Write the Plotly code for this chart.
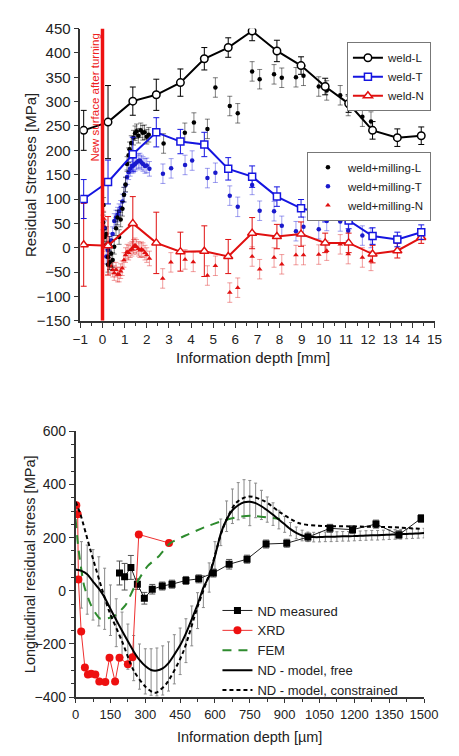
import plotly.graph_objects as go

FONT = "Liberation Sans, Arial, sans-serif"

# ================= TOP PANEL DATA =================
weld_x = [-0.85, 0.25, 1.37, 2.43, 3.52, 4.6, 5.68, 6.76, 7.88, 8.97, 10.06, 11.12, 12.2, 13.32, 14.4]
weld_L = [241, 258, 301, 314, 339, 388, 411, 445, 404, 374, 331, 296, 241, 226, 230]
weld_L_err = [41, 75, 29, 32, 28, 23, 20, 20, 22, 18, 17, 18, 18, 18, 18]
weld_T = [100, 135, 192, 237, 218, 212, 162, 146, 105, 81, 70, 56, 24, 17, 32]
weld_T_err = [40, 45, 35, 30, 25, 25, 23, 22, 20, 18, 17, 17, 17, 15, 15]
weld_N = [6, 4, 50, 10, -8, -7, -18, 30, 23, 28, 10, 10, -13, -6, 21]
weld_N_err = [85, 60, 55, 63, 40, 52, 35, 32, 25, 25, 20, 20, 18, 15, 12]

mill_L_x = [0.03, 0.05, 0.1, 0.17, 0.25, 0.25, 0.32, 0.32, 0.39, 0.46, 0.53, 0.61, 0.68, 0.75, 0.82, 0.9,
            0.97, 1.04, 1.11, 1.18, 1.22, 1.3, 1.4, 1.47, 1.54, 1.62, 1.73, 1.82, 1.9, 2.0, 2.09,
            2.76, 3.72, 4.13, 4.74, 5.1, 5.75, 6.11, 6.76, 7.1, 7.75, 8.1, 8.74, 9.08, 9.77, 10.13,
            10.74, 11.1, 11.74, 12.13]
mill_L_y = [52, 88, 22, 28, -19, -35, 8, -30, -12, -25, 2, 40, 62, 22, 58, 80,
            109, 130, 172, 190, 202, 215, 226, 235, 239, 230, 241, 236, 237, 228, 232,
            214, 236, 257, 244, 329, 291, 276, 362, 346, 356, 349, 350, 353, 331, 323,
            313, 291, 269, 259]
mill_L_err = [15] * 31 + [20] * 19

mill_T_x = [0.1, 0.17, 0.25, 0.32, 0.39, 0.46, 0.53, 0.61, 0.68, 0.75, 0.82, 0.9, 0.97, 1.04, 1.11,
            1.18, 1.25, 1.33, 1.4, 1.47, 1.54, 1.62, 1.69, 1.76, 1.83, 1.92, 2.0, 2.12,
            2.73, 3.1, 3.73, 4.05, 4.74, 5.1, 5.75, 6.11, 6.76, 7.1, 7.75, 8.1, 8.74, 9.08,
            9.77, 10.13, 10.74, 11.1, 11.74, 12.13]
mill_T_y = [40, -18, -5, 8, 15, 28, 55, 62, 68, 75, 82, 95, 109, 129, 145,
            155, 162, 168, 169, 172, 175, 178, 179, 175, 172, 168, 169, 162,
            152, 163, 170, 179, 143, 154, 107, 84, 129, 76, 75, 45, 34, 43,
            38, 55, 54, 35, 25, 20]
mill_T_err = [15] * 28 + [20] * 20

mill_N_x = [0.05, 0.1, 0.17, 0.25, 0.32, 0.39, 0.46, 0.53, 0.61, 0.68, 0.75, 0.82, 0.89, 0.97, 1.04,
            1.11, 1.18, 1.25, 1.33, 1.4, 1.47, 1.54, 1.62, 1.69, 1.76, 1.83, 1.92, 2.0, 2.12,
            2.72, 3.09, 3.73, 4.1, 4.74, 5.1, 5.75, 6.11, 6.76, 7.1, 7.75, 8.1, 8.74, 9.08,
            9.77, 10.13, 10.74, 11.1, 11.74, 12.13]
mill_N_y = [60, 42, 8, -18, -30, -38, -45, -52, -45, -55, -55, -48, -42, -25, -15,
            -8, -10, -5, -2, 2, 5, 2, -2, -5, -3, -5, -10, -15, -22,
            -63, -30, -24, -29, -57, -37, -92, -82, -18, -44, -20, -34, -15, -15,
            -14, -6, 7, -13, -20, -27]
mill_N_err = [15] * 29 + [20] * 20

top_x_ticks = list(range(-1, 16))
top_y_ticks = list(range(-150, 451, 50))

# ================= BOTTOM PANEL DATA =================
nd_x = [189, 211, 238, 266, 296, 330, 373, 415, 475, 530, 593, 661, 738, 820, 909, 1000, 1095, 1192, 1293, 1392, 1487]
nd_y = [67, 53, 88, 25, -28, 6, 18, 25, 39, 45, 67, 100, 119, 176, 179, 202, 235, 230, 251, 211, 272]
nd_err = [45, 50, 45, 20, 22, 18, 15, 15, 15, 15, 15, 18, 15, 15, 15, 15, 15, 15, 15, 15, 15]

xrd_x = [3, 9, 12, 24, 40, 53, 67, 85, 102, 128, 146, 170, 189, 225, 245, 272, 402]
xrd_y = [322, 288, 43, -153, -288, -315, -312, -315, -341, -343, -252, -341, -252, -276, -250, 212, 180]

fem_x = [0, 12, 37, 67, 105, 160, 214, 255, 309, 357, 405, 473, 555, 636, 700, 760, 880]
fem_y = [270, 160, 18, -55, -104, -98, -55, 18, 92, 129, 178, 208, 239, 264, 278, 282, 270]

free_x = [0, 25, 50, 75, 100, 125, 150, 175, 200, 225, 250, 275, 300, 325, 350, 375, 400, 425, 450, 475,
          500, 525, 550, 575, 600, 625, 650, 675, 700, 725, 750, 775, 800, 825, 850, 875, 900, 925, 950, 975,
          1000, 1025, 1050, 1075, 1100, 1125, 1150, 1175, 1200, 1225, 1250, 1275, 1300, 1325, 1350, 1375,
          1400, 1425, 1450, 1475, 1500]
free_y = [80, 75, 62, 35, 8, -25, -68, -110, -150, -190, -228, -260, -283, -298, -300, -292, -272, -240, -205, -160,
          -107, -52, 12, 55, 130, 215, 268, 303, 322, 333, 335, 330, 318, 303, 286, 268, 250, 232, 218, 208,
          203, 202, 202, 203, 203, 204, 205, 205, 206, 207, 208, 209, 209, 210, 211, 212,
          213, 214, 215, 216, 217]
free_up = [0, 110, 110, 120, 120, 110, 90, 80, 70, 65, 60, 60, 65, 80, 85, 85, 80, 75, 65, 55,
           50, 45, 45, 50, 55, 55, 70, 80, 85, 85, 80, 75, 60, 50, 45, 35, 30, 25, 22, 20,
           18, 18, 18, 18, 18, 18, 18, 18, 18, 18, 18, 18, 18, 18, 18, 18,
           18, 18, 18, 18, 18]
free_down = [0, 140, 150, 145, 140, 120, 100, 100, 100, 105, 110, 110, 105, 95, 95, 100, 105, 110, 110, 110,
             100, 90, 75, 60, 50, 45, 45, 50, 55, 60, 90, 55, 50, 45, 40, 35, 30, 25, 22, 20,
             18, 18, 18, 18, 18, 18, 18, 18, 18, 18, 18, 18, 18, 18, 18, 18,
             18, 18, 18, 18, 18]

con_x = [0, 20, 64, 118, 146, 200, 250, 300, 336, 350, 391, 459, 527, 582, 636, 691, 745, 813, 882, 963, 1044, 1194, 1372, 1481]
con_y = [335, 290, 153, -6, -80, -190, -300, -360, -383, -382, -349, -239, -55, 80, 239, 331, 355, 337, 294, 254, 245, 242, 239, 233]

bot_x_ticks = list(range(0, 1501, 150))
bot_y_ticks = list(range(-400, 601, 200))

fig = go.Figure()

# ---------- top panel traces ----------
def weld_trace(y, err, color, symbol, size, name):
    return go.Scatter(x=weld_x, y=y, mode="lines+markers", name=name,
                      line=dict(color=color, width=2),
                      marker=dict(symbol=symbol, size=size, color="white",
                                  line=dict(color=color, width=1.5)),
                      error_y=dict(type="data", array=err, visible=True,
                                   color=color, thickness=1, width=3),
                      xaxis="x", yaxis="y", legend="legend")

def mill_trace(x, y, err, color, errcolor, symbol, size, name):
    return go.Scatter(x=x, y=y, mode="markers", name=name,
                      marker=dict(symbol=symbol, size=size, color=color),
                      error_y=dict(type="data", array=err, visible=True,
                                   color=errcolor, thickness=1, width=2.5),
                      xaxis="x", yaxis="y", legend="legend2")

fig.add_trace(mill_trace(mill_N_x, mill_N_y, mill_N_err, "#e01010", "rgba(225,40,40,0.45)", "triangle-up", 5, "weld+milling-N"))
fig.add_trace(mill_trace(mill_T_x, mill_T_y, mill_T_err, "#1a1acc", "rgba(40,40,220,0.45)", "circle", 4.5, "weld+milling-T"))
fig.add_trace(mill_trace(mill_L_x, mill_L_y, mill_L_err, "#000000", "rgba(0,0,0,0.5)", "circle", 4.5, "weld+milling-L"))
fig.add_trace(weld_trace(weld_N, weld_N_err, "#e01010", "triangle-up", 8, "weld-N"))
fig.add_trace(weld_trace(weld_T, weld_T_err, "#1515e0", "square", 7, "weld-T"))
fig.add_trace(weld_trace(weld_L, weld_L_err, "#000000", "circle", 7.5, "weld-L"))

# ---------- bottom panel traces ----------
fig.add_trace(go.Scatter(x=free_x, y=free_y, mode="markers", showlegend=False,
                         marker=dict(size=1, color="rgba(0,0,0,0)"),
                         error_y=dict(type="data", array=free_up, arrayminus=free_down,
                                      visible=True, color="#8a8a8a", thickness=1, width=1.5),
                         xaxis="x2", yaxis="y2", hoverinfo="skip"))
fig.add_trace(go.Scatter(x=nd_x, y=nd_y, mode="lines+markers", name="ND measured",
                         line=dict(color="#202020", width=1),
                         marker=dict(symbol="square", size=7, color="black"),
                         error_y=dict(type="data", array=nd_err, visible=True,
                                      color="#555555", thickness=1, width=3),
                         xaxis="x2", yaxis="y2", legend="legend3"))
fig.add_trace(go.Scatter(x=xrd_x, y=xrd_y, mode="lines+markers", name="XRD",
                         line=dict(color="#ee3030", width=1),
                         marker=dict(symbol="circle", size=8, color="#ee1010"),
                         xaxis="x2", yaxis="y2", legend="legend3"))
fig.add_trace(go.Scatter(x=fem_x, y=fem_y, mode="lines", name="FEM",
                         line=dict(color="#2e8b2e", width=2, dash="9px,7px", shape="spline", smoothing=0.6),
                         xaxis="x2", yaxis="y2", legend="legend3"))
fig.add_trace(go.Scatter(x=free_x, y=free_y, mode="lines", name="ND - model, free",
                         line=dict(color="black", width=2, shape="spline", smoothing=0.6),
                         xaxis="x2", yaxis="y2", legend="legend3"))
fig.add_trace(go.Scatter(x=con_x, y=con_y, mode="lines", name="ND - model, constrained",
                         line=dict(color="black", width=2, dash="4px,3px", shape="spline", smoothing=0.8),
                         xaxis="x2", yaxis="y2", legend="legend3"))

W, H = 459, 756

def px_x(p):
    return p / W

def px_y(p):
    return 1 - p / H

axis_common = dict(showline=True, linecolor="#333", linewidth=1.5, ticks="outside",
                   tickcolor="#333", showgrid=False, zeroline=False, mirror=False)

fig.update_layout(
    width=W, height=H, margin=dict(l=0, r=0, t=0, b=0),
    paper_bgcolor="white", plot_bgcolor="white",
    font=dict(family=FONT, color="#222"),
    xaxis=dict(domain=[px_x(76), px_x(448)], range=[-1, 15], anchor="y",
               tickvals=top_x_ticks, ticklen=5, tickwidth=1.2,
               tickfont=dict(size=13.5),
               minor=dict(dtick=0.5, ticklen=3, ticks="outside", tickcolor="#333"),
               **axis_common),
    yaxis=dict(domain=[px_y(319), px_y(20)], range=[-150, 450], anchor="x",
               tickvals=top_y_ticks, ticklen=5, tickwidth=1.2,
               tickfont=dict(size=15),
               **axis_common),
    xaxis2=dict(domain=[px_x(71), px_x(437)], range=[0, 1500], anchor="y2",
                tickvals=bot_x_ticks, ticklen=4, tickwidth=1.2,
                tickfont=dict(size=13),
                minor=dict(dtick=75, ticklen=3, ticks="outside", tickcolor="#333"),
                **axis_common),
    yaxis2=dict(domain=[px_y(704), px_y(432)], range=[-400, 600], anchor="x2",
                tickvals=bot_y_ticks, ticklen=5, tickwidth=1.2,
                tickfont=dict(size=14),
                minor=dict(dtick=50, ticklen=3, ticks="outside", tickcolor="#333"),
                **axis_common),
    legend=dict(x=px_x(356), y=px_y(34), xanchor="left", yanchor="top",
                bordercolor="#777", borderwidth=1, bgcolor="white",
                font=dict(size=11.5), traceorder="reversed", tracegroupgap=0),
    legend2=dict(x=px_x(314), y=px_y(146), xanchor="left", yanchor="top",
                 bordercolor="#777", borderwidth=1, bgcolor="white",
                 font=dict(size=11.5), traceorder="reversed", tracegroupgap=0),
    legend3=dict(x=px_x(220), y=px_y(600), xanchor="left", yanchor="top",
                 bgcolor="rgba(255,255,255,0)", borderwidth=0,
                 font=dict(size=13), traceorder="normal", tracegroupgap=0),
    showlegend=True,
)

fig.add_shape(type="line", xref="x", yref="y", x0=0, x1=0, y0=-150, y1=450,
              line=dict(color="#ee1111", width=3.5))

annotations = [
    dict(text="New surface after turning", xref="paper", yref="paper",
         x=px_x(91), y=px_y(91), textangle=-90, showarrow=False,
         font=dict(size=11.5, color="#ee2020"), xanchor="center", yanchor="middle"),
    dict(text="Residual Stresses [MPa]", xref="paper", yref="paper",
         x=px_x(23), y=px_y(170), textangle=-90, showarrow=False,
         font=dict(size=15), xanchor="center", yanchor="middle"),
    dict(text="Information depth [mm]", xref="paper", yref="paper",
         x=px_x(257), y=px_y(357), showarrow=False,
         font=dict(size=15), xanchor="center", yanchor="middle"),
    dict(text="Longitudinal residual stress [MPa]", xref="paper", yref="paper",
         x=px_x(23), y=px_y(568), textangle=-90, showarrow=False,
         font=dict(size=14.5), xanchor="center", yanchor="middle"),
    dict(text="Information depth [µm]", xref="paper", yref="paper",
         x=px_x(254), y=px_y(745), showarrow=False,
         font=dict(size=14.5), xanchor="center", yanchor="middle"),
]
fig.update_layout(annotations=annotations)

fig.write_html("out.html")
